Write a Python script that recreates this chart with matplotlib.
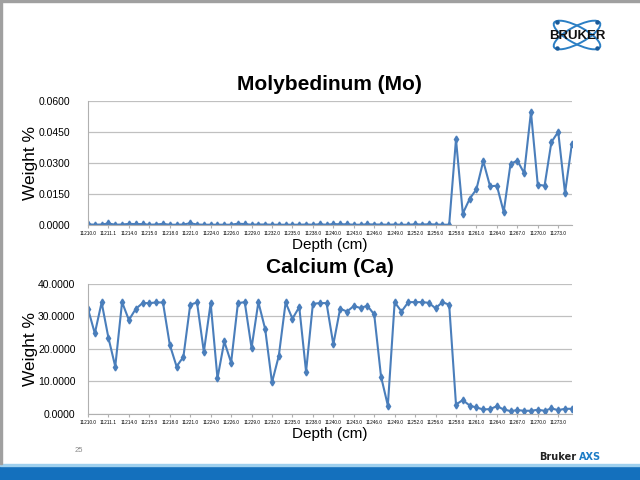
import numpy as np
import matplotlib.pyplot as plt
from matplotlib.patches import Ellipse, Rectangle

plt.rcParams['font.family'] = ['Liberation Sans', 'DejaVu Sans']

depth_labels = ['11210.0', '11211.1', '11214.0', '11215.0', '11218.0', '11221.0',
                '11224.0', '11226.0', '11229.0', '11232.0', '11235.0', '11238.0',
                '11240.0', '11243.0', '11246.0', '11249.0', '11252.0', '11256.0',
                '11258.0', '11261.0', '11264.0', '11267.0', '11270.0', '11273.0']

mo = [0.0004, 0.0002, 0.0003, 0.0008, 0.0002, 0.0003, 0.0006, 0.0005, 0.0005, 0.0002,
      0.0003, 0.0006, 0.0002, 0.0002, 0.0003, 0.0009, 0.0003, 0.0002, 0.0002, 0.0002,
      0.0002, 0.0002, 0.0007, 0.0005, 0.0002, 0.0003, 0.0003, 0.0002, 0.0002, 0.0002,
      0.0002, 0.0002, 0.0003, 0.0002, 0.0004, 0.0002, 0.0005, 0.0004, 0.0004, 0.0002,
      0.0002, 0.0004, 0.0003, 0.0003, 0.0002, 0.0003, 0.0002, 0.0002, 0.0004, 0.0003,
      0.0004, 0.0003, 0.0002, 0.0002,
      0.0416, 0.0056, 0.0127, 0.0174, 0.0310, 0.0188, 0.0191, 0.0064, 0.0296, 0.0313,
      0.0252, 0.0548, 0.0196, 0.0191, 0.0402, 0.0452, 0.0156, 0.0392]

ca = [32.3, 24.8, 34.3, 23.4, 14.6, 34.4, 28.9, 32.3, 34.1, 34.1,
      34.3, 34.3, 21.3, 14.6, 17.6, 33.6, 34.3, 19.1, 34.1, 11.0,
      22.3, 15.8, 34.1, 34.4, 20.3, 34.4, 26.1, 9.7, 17.9, 34.3,
      29.3, 32.9, 13.0, 33.9, 34.1, 34.1, 21.4, 32.4, 31.5, 33.2,
      32.6, 33.3, 30.6, 11.5, 2.6, 34.4, 31.5, 34.4, 34.4, 34.4,
      34.2, 32.5, 34.4, 33.6, 2.9, 4.3, 2.6, 2.0, 1.4, 1.5,
      2.4, 1.4, 0.9, 1.2, 1.0, 1.0, 1.3, 1.0, 1.7, 1.2,
      1.6, 1.6]

line_col = '#4a7ebb'
x = np.arange(len(ca))

fig = plt.figure(figsize=(6.4, 4.8), dpi=100)


def panel(rect, y, title, yticks, ypad):
    ax = fig.add_axes(rect)
    ax.plot(x, y, color=line_col, lw=1.5, marker='d', ms=3.5, mec=line_col)
    ax.set_xlim(0, len(y) - 1)
    ax.set_ylim(yticks[0], yticks[-1])
    ax.set_yticks(yticks)
    ax.set_yticklabels(['%.4f' % v for v in yticks], fontsize=7.5)
    ax.set_xticks(x[::3])
    ax.set_xticklabels(depth_labels, fontsize=3.4)
    ax.tick_params(axis='x', length=2, pad=2, color='#b0b0b0')
    ax.tick_params(axis='y', length=0, pad=ypad)
    ax.grid(axis='y', color='#c0c0c0', lw=0.9)
    ax.set_axisbelow(True)
    for s in ['top', 'right']:
        ax.spines[s].set_visible(False)
    ax.spines['left'].set_color('#b0b0b0')
    ax.spines['bottom'].set_color('#b0b0b0')
    ax.set_title(title, fontsize=15, fontweight='bold', pad=8)
    ax.set_xlabel('Depth (cm)', fontsize=11, labelpad=2)
    ax.set_ylabel('Weight %', fontsize=12.5)
    ax.yaxis.set_label_coords(-0.103, 0.5)
    return ax


ax1 = panel([0.1375, 0.531, 0.756, 0.258], mo, 'Molybedinum (Mo)',
            [0, 0.015, 0.03, 0.045, 0.06], 13)
ax2 = panel([0.1375, 0.1375, 0.756, 0.271], ca, 'Calcium (Ca)',
            [0, 10, 20, 30, 40], 9)

# slide decorations
fig.patches.append(Rectangle((0, 0), 1, 14 / 480, transform=fig.transFigure,
                             color='#1470bd', zorder=0))
fig.patches.append(Rectangle((0, 14 / 480), 1, 2 / 480, transform=fig.transFigure,
                             color='#9fd0ee', zorder=0))
fig.patches.append(Rectangle((0, 478 / 480), 1, 2 / 480, transform=fig.transFigure,
                             color='#a0a0a0', zorder=0))
fig.patches.append(Rectangle((0, 16 / 480), 1.5 / 640, 1, transform=fig.transFigure,
                             color='#a0a0a0', zorder=0))
fig.text(75 / 640, 1 - 450 / 480, '25', fontsize=5.5, color='#888888', va='center')
fig.text(576 / 640, 1 - 457 / 480, 'Bruker', fontsize=7, fontweight='bold',
         family='Liberation Sans Narrow', color='#222222', ha='right', va='center')
fig.text(579 / 640, 1 - 457 / 480, 'AXS', fontsize=7, fontweight='bold',
         family='Liberation Sans Narrow', color='#1c7cc6', ha='left', va='center')

# logo
lax = fig.add_axes([537 / 640, 1 - 58 / 480, 80 / 640, 46 / 480])
lax.set_xlim(0, 80)
lax.set_ylim(0, 46)
lax.axis('off')
for ang in (28, -28):
    lax.add_patch(Ellipse((40, 23), 52, 17, angle=ang, fill=False,
                          ec='#2b7fc4', lw=1.4))
lax.text(40, 22, 'BRUKER', fontsize=9.5, fontweight='bold', ha='center',
         va='center', color='#111111')
lax.plot([20, 60], [36, 10], 'o', color='#1a5a99', ms=2.2)
lax.plot([20, 60], [10, 36], 'o', color='#1a5a99', ms=2.2)

fig.savefig('out.png', dpi=100)
